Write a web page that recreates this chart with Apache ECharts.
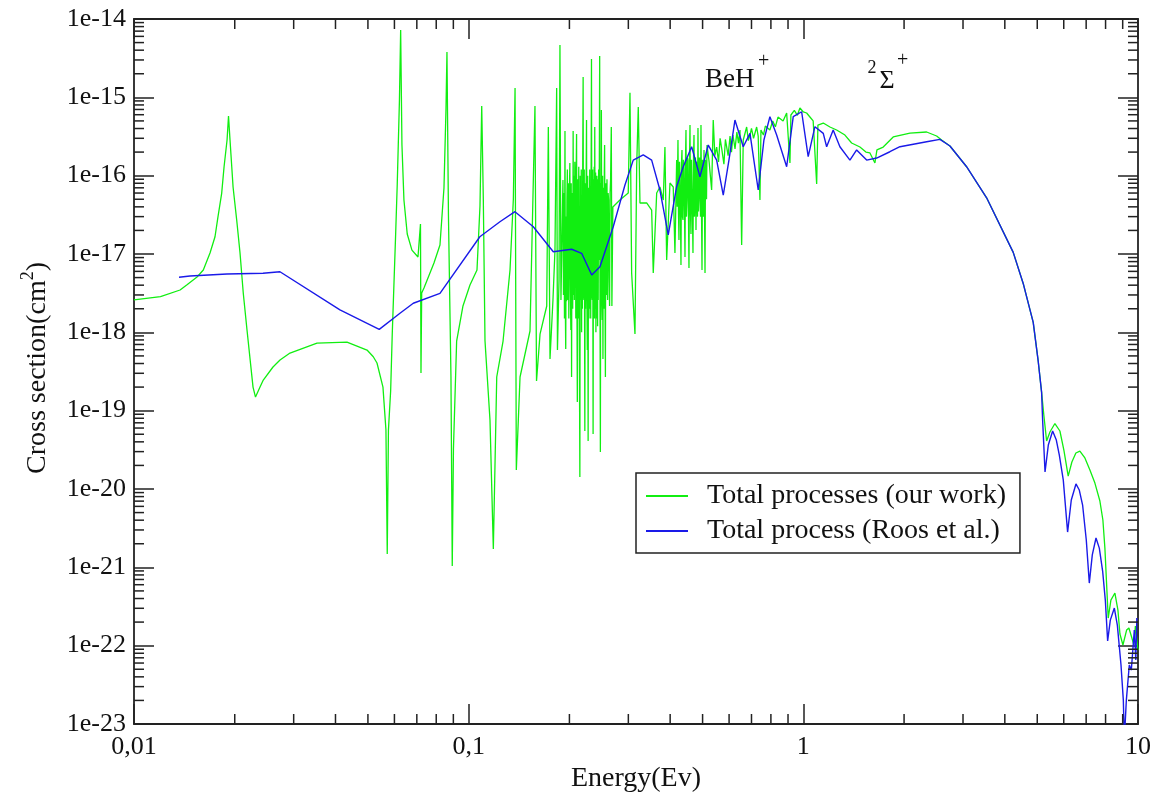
<!DOCTYPE html>
<html><head><meta charset="utf-8">
<script src="https://cdn.jsdelivr.net/npm/echarts@6/dist/echarts.min.js"></script>
<style>html,body{margin:0;padding:0;background:#fff}#c{width:1157px;height:795px}#err{position:absolute;left:5px;top:5px;color:red;font:12px monospace}</style>
</head><body><div id="c"></div><div id="err"></div>
<script>
// ---- data (Energy in eV, cross section in cm^2) ----
const seriesNames = ['Total processes (our work)', 'Total process (Roos et al.)'];
const xTickLabels = { '-2': '0,01', '-1': '0,1', '0': '1', '1': '10' };
const yMinLabel = '1e-23';
const yAxisTitle = '{n|Cross section(cm}{s|2}{n|)}';
const xAxisTitle = 'Energy(Ev)';
const minorMultipliers = [2, 3, 4, 5, 6, 7, 8, 9];
const xDecades = [0.01, 0.1, 1];
const yDecades = [1e-23, 1e-22, 1e-21, 1e-20, 1e-19, 1e-18, 1e-17, 1e-16, 1e-15];

const ourWorkLow = [
[0.01,2.59e-18],[0.0120,2.85e-18],[0.01373,3.47e-18],[0.01437,4.02e-18],[0.01543,5.08e-18],[0.01611,6.24e-18],[0.01687,1.03e-17],[0.01746,1.66e-17],[0.01782,2.97e-17],[0.01828,5.95e-17],[0.01858,1.29e-16],[0.01897,2.85e-16],[0.01916,5.78e-16],[0.01936,2.85e-16],[0.01977,7.17e-17],[0.02027,2.72e-17],[0.02074,1.03e-17],[0.02121,3.15e-18],[0.02176,1.07e-18],[0.02268,2.0e-19],[0.02307,1.49e-19],[0.0238,2.0e-19],[0.02434,2.46e-19],[0.02602,3.61e-19],[0.02731,4.43e-19],[0.02925,5.44e-19],[0.03522,7.30e-19],[0.04329,7.52e-19],[0.04969,5.94e-19],[0.05188,4.88e-19],[0.05322,4.06e-19],[0.05545,2.0e-19],[0.0566,5.66e-20],[0.05711,1.48e-21],[0.05758,5.66e-20],[0.05846,1.78e-19],[0.05911,9.5e-19],[0.06051,1.80e-17],[0.06118,7.82e-17],[0.06211,9.25e-16],[0.06263,7.24e-15],[0.06319,2.46e-16],[0.06406,4.89e-17],[0.06553,1.80e-17],[0.06769,1.12e-17],[0.07056,9.15e-18],[0.07178,2.41e-17],[0.07203,3.02e-19],[0.07238,3.18e-18],[0.07353,3.68e-18],[0.07876,7.67e-18],[0.08208,1.30e-17],[0.08437,6.96e-17],[0.08554,6.89e-16],[0.08613,3.79e-15],[0.08702,3.05e-17],[0.08853,2.69e-19],[0.08932,1.04e-21],[0.09006,3.24e-20],[0.09206,7.74e-19],[0.09616,2.17e-18],[0.1009,4.02e-18],[0.1059,6.24e-18],[0.1081,4.10e-17],[0.1094,7.75e-16],[0.1106,5.04e-17],[0.1119,7.74e-19],[0.1158,7.59e-20],[0.1185,1.71e-21],[0.1213,2.69e-19],[0.1267,7.74e-19],[0.1329,6.24e-18],[0.136,5.04e-17],[0.1376,1.32e-15],[0.1388,1.75e-20],[0.1424,2.69e-19],[0.1525,1.04e-18],[0.1578,7.75e-16],[0.1595,2.39e-19],[0.1634,9.5e-19],[0.1711,2.17e-18],[0.173,4.18e-16],[0.175,4.56e-19],[0.1786,2.59e-18],[0.1811,1.12e-17],[0.1832,1.32e-15],[0.1842,5.94e-19],[0.1862,4.65e-18],[0.1874,4.66e-15],[0.1887,2.59e-18]
];
const ourWorkDense = [
[0.1900,2.59e-18],[0.1907,4.0e-17],[0.1913,8.8e-17],[0.1920,3.0e-18],[0.1927,6.0e-17],[0.1933,1.5e-18],[0.1940,3.72e-16],[0.1945,2.0e-18],[0.1950,6.12e-19],[0.1956,3.0e-17],[0.1961,2.5e-18],[0.1966,4.89e-17],[0.1972,1.2e-16],[0.1979,2.59e-18],[0.1986,8.0e-17],[0.1992,1.5e-18],[0.1999,5.0e-17],[0.2006,1.45e-16],[0.2013,4.0e-18],[0.2020,1.07e-18],[0.2025,8.0e-17],[0.2030,2.69e-19],[0.2036,6.0e-17],[0.2041,2.72e-17],[0.2046,2.0e-18],[0.2052,3.72e-16],[0.2058,3.0e-18],[0.2063,1.0e-16],[0.2069,2.59e-18],[0.2076,1.5e-16],[0.2084,6.56e-17],[0.2090,1.5e-18],[0.2096,1.2e-16],[0.2101,3.4e-16],[0.2106,3.0e-18],[0.2112,1.29e-19],[0.2118,9.0e-17],[0.2124,1.5e-18],[0.2127,1.12e-17],[0.2133,1.3e-16],[0.2140,2.0e-18],[0.2149,1.42e-20],[0.2155,1.0e-16],[0.2160,3.0e-18],[0.2164,2.59e-18],[0.2170,1.2e-16],[0.2175,1.0e-18],[0.2179,4.89e-17],[0.2186,2.0e-18],[0.2192,1.5e-16],[0.2198,1.82e-15],[0.2203,3.0e-18],[0.2209,2.59e-18],[0.2215,1.2e-16],[0.2224,5.5e-20],[0.2230,8.0e-17],[0.2235,2.0e-18],[0.2239,1.12e-17],[0.2245,1.3e-16],[0.2250,5.13e-16],[0.2256,2.5e-18],[0.2262,5.94e-19],[0.2268,1.0e-16],[0.2275,4.1e-20],[0.2281,7.0e-17],[0.2288,1.5e-18],[0.2294,8.38e-18],[0.2300,1.2e-16],[0.2305,2.0e-18],[0.2309,6.56e-17],[0.2316,1.5e-18],[0.2322,1.0e-16],[0.2328,3.09e-15],[0.2334,3.0e-18],[0.2341,2.59e-18],[0.2347,1.2e-16],[0.2354,5.03e-20],[0.2360,9.0e-17],[0.2365,4.65e-18],[0.2372,1.3e-16],[0.2377,1.5e-18],[0.2381,4.18e-16],[0.2388,2.0e-18],[0.2395,1.1e-16],[0.2400,1.0e-18],[0.2405,8.0e-17],[0.2411,1.5e-18],[0.2416,1.0e-16],[0.2422,3.64e-17],[0.2428,1.2e-18],[0.2433,9.0e-17],[0.2438,2.59e-18],[0.2445,1.2e-16],[0.2452,8.38e-18],[0.2463,3.37e-15],[0.2469,2.0e-18],[0.2475,2.96e-20],[0.2481,8.0e-17],[0.2487,3.0e-18],[0.2492,6.89e-16],[0.2499,2.5e-18],[0.2506,1.44e-18],[0.2512,1.0e-16],[0.2519,4.56e-19],[0.2525,7.0e-17],[0.2531,2.72e-17],[0.2537,2.0e-18],[0.2543,1.1e-16],[0.2548,2.46e-16],[0.2555,3.0e-18],[0.2562,2.69e-19],[0.2569,8.0e-17],[0.2576,3.0e-18],[0.2583,1.12e-17],[0.2590,9.0e-17],[0.2596,4.0e-18],[0.2601,2.59e-18],[0.2610,6.0e-17],[0.2619,4.89e-17],[0.2628,5.0e-18],[0.2637,2.17e-18],[0.2646,6.0e-17],[0.2655,8.8e-17],[0.2668,4.18e-16],[0.2679,2.17e-18],[0.2697,3.98e-17]
];
const ourWorkMid = [
[0.2831,4.89e-17],[0.2998,6.0e-17],[0.3034,1.14e-15],[0.3069,5.72e-18],[0.314,9.5e-19],[0.3177,1.29e-16],[0.3212,7.52e-16],[0.325,4.48e-17],[0.3403,4.48e-17],[0.3522,3.64e-17],[0.3561,5.72e-18],[0.3646,6.0e-17],[0.3729,7.17e-17],[0.3815,4.89e-17],[0.3859,2.32e-16],[0.3905,8.38e-18],[0.3995,8.06e-17],[0.4086,7.17e-17],[0.4134,1.03e-17],[0.4183,1.58e-16],
[0.4200,4.0e-17],[0.4221,2.85e-16],[0.4236,3.5e-17],[0.4250,1.51e-17],[0.4265,1.5e-16],[0.4280,8.8e-17],[0.4295,3.0e-17],[0.4309,7.23e-18],[0.4324,1.4e-16],[0.4339,2.13e-16],[0.4354,3.0e-17],[0.4369,2.72e-17],[0.4384,1.6e-16],[0.4399,1.18e-16],[0.4415,3.5e-17],[0.4430,9.15e-18],[0.4445,1.5e-16],[0.4460,3.83e-16],[0.4475,3.0e-17],[0.4491,4.89e-17],[0.4506,1.7e-16],[0.4522,1.58e-16],[0.4538,3.0e-17],[0.4553,6.62e-18],[0.4569,1.5e-16],[0.4585,4.43e-16],[0.4600,3.5e-17],[0.4616,1.80e-17],[0.4632,1.6e-16],[0.4648,1.58e-16],[0.4664,3.0e-17],[0.4680,1.03e-17],[0.4696,1.5e-16],[0.4713,3.30e-16],[0.4729,3.0e-17],[0.4745,6.56e-17],[0.4761,1.7e-16],[0.4778,2.02e-17],[0.4795,1.5e-16],[0.4811,7.82e-17],[0.4828,3.0e-17],[0.4844,4.06e-16],[0.4861,3.5e-17],[0.4878,4.89e-17],[0.4894,1.7e-16],[0.4911,1.58e-16],[0.4928,3.0e-17],[0.4945,4.43e-16],[0.4962,4.0e-17],[0.4980,6.24e-18],[0.4997,1.6e-16],[0.5014,8.8e-17],[0.5031,3.0e-17],[0.5049,2.13e-16],[0.5066,4.0e-17],[0.5084,5.72e-18],[0.5101,1.6e-16],[0.5119,1.58e-16],[0.5137,5.0e-17],[0.5154,2.46e-16]
];
const ourWorkHigh = [
[0.5230,1.5e-16],[0.5321,6.56e-17],[0.538,5.13e-16],[0.5440,1.8e-16],[0.5508,2.32e-16],[0.5580,1.5e-16],[0.5640,3.0e-16],[0.5711,2.13e-16],[0.5790,1.4e-16],[0.5850,2.9e-16],[0.5899,2.85e-16],[0.5960,1.8e-16],[0.6040,3.2e-16],[0.6100,2.0e-16],[0.6161,3.30e-16],[0.6250,2.2e-16],[0.6330,3.6e-16],[0.6400,2.6e-16],[0.6466,3.83e-16],[0.6542,1.30e-17],[0.6614,2.85e-16],[0.6690,3.0e-16],[0.6771,4.18e-16],[0.6850,2.8e-16],[0.6927,3.30e-16],[0.7000,4.0e-16],[0.7100,3.0e-16],[0.7253,4.18e-16],[0.7330,3.2e-16],[0.7419,4.89e-17],[0.747,3.83e-16],[0.7600,3.3e-16],[0.7700,4.3e-16],[0.7946,3.83e-16],[0.8100,5.0e-16],[0.8250,4.2e-16],[0.8400,5.6e-16],[0.8514,5.61e-16],[0.8700,5.0e-16],[0.8916,6.31e-16],[0.912,1.45e-16],[0.918,5.95e-16],[0.9400,6.8e-16],[0.9600,5.9e-16],[0.9768,7.31e-16],[1.000,6.5e-16],[1.023,6.31e-16],[1.0464,5.61e-16],[1.070,5.0e-16],[1.096,7.82e-17],[1.1056,4.43e-16],[1.1468,4.70e-16],[1.2008,4.18e-16],[1.2574,3.83e-16],[1.3314,3.30e-16],[1.3941,2.61e-16],[1.4761,2.32e-16],[1.5382,2.00e-16],[1.5812,1.95e-16],[1.6364,1.45e-16],[1.6592,2.13e-16],[1.7327,2.32e-16],[1.856,3.12e-16],[2.0824,3.50e-16],[2.3355,3.61e-16],[2.502,3.21e-16],[2.5892,2.85e-16]
];
const sharedFall = [
[2.742,2.39e-16],[3.075,1.30e-16],[3.529,5.22e-17],[4.238,1.05e-17],[4.539,4.21e-18],[4.863,1.34e-18],[5.033,4.28e-19],[5.152,1.71e-19]
];
const ourWorkTail = [
[5.235,8.54e-20],[5.333,4.10e-20],[5.456,5.34e-20],[5.646,6.85e-20],[5.843,5.50e-20],[6.005,3.14e-20],[6.186,1.46e-20],[6.345,2.21e-20],[6.522,2.88e-20],[6.704,3.05e-20],[6.939,2.49e-20],[7.183,1.75e-20],[7.434,1.19e-20],[7.694,7.02e-21],[7.854,4.02e-21],[7.963,1.76e-21],[8.147,2.25e-22],[8.299,3.82e-22],[8.531,4.70e-22],[8.71,2.85e-22],[8.831,1.41e-22],[9.015,1.02e-22],[9.246,1.58e-22],[9.393,1.68e-22],[9.57,1.29e-22],[9.72,1.02e-22],[9.822,1.78e-22],[9.924,1.18e-22],[10,8.79e-23]
];
const roosMain = [
[0.01363,5.04e-18],[0.0147,5.24e-18],[0.01896,5.55e-18],[0.02429,5.67e-18],[0.0273,5.94e-18],[0.04125,1.93e-18],[0.05405,1.09e-18],[0.06233,1.75e-18],[0.06831,2.35e-18],[0.08208,3.15e-18],[0.108,1.66e-17],[0.124,2.58e-17],[0.1375,3.47e-17],[0.156,2.23e-17],[0.179,1.07e-17],[0.2031,1.15e-17],[0.2176,1.02e-17],[0.2332,5.39e-18],[0.2468,6.88e-18],[0.2704,2.23e-17],[0.2931,7.60e-17],[0.3103,1.58e-16],[0.3324,1.84e-16],[0.3522,1.58e-16],[0.3728,6.56e-17],[0.3948,1.75e-17],[0.4182,7.23e-17],[0.4377,1.30e-16],[0.4637,2.34e-16],[0.491,9.70e-17],[0.5199,2.46e-16],[0.5508,1.58e-16],[0.5764,5.66e-17],[0.5994,1.58e-16],[0.6247,5.13e-16],[0.6614,2.34e-16],[0.6927,3.47e-16],[0.7332,6.56e-17],[0.7625,2.85e-16],[0.7946,5.66e-16],[0.8323,3.30e-16],[0.8916,1.30e-16],[0.9329,5.66e-16],[0.9884,6.55e-16],[1.034,1.75e-16],[1.083,4.22e-16],[1.147,3.47e-16],[1.174,2.34e-16],[1.228,3.83e-16],[1.286,2.34e-16],[1.378,1.58e-16],[1.443,2.13e-16],[1.546,1.58e-16],[1.656,1.68e-16],[1.814,2.02e-16],[1.944,2.34e-16],[2.336,2.71e-16],[2.559,2.91e-16]
];
const roosTail = [
[5.188,7.59e-20],[5.275,1.65e-20],[5.395,3.64e-20],[5.558,5.50e-20],[5.701,4.22e-20],[5.82,2.71e-20],[5.981,1.30e-20],[6.161,2.82e-21],[6.319,7.23e-21],[6.526,1.16e-20],[6.677,9.70e-21],[6.831,6.24e-21],[7.006,2.23e-21],[7.153,6.30e-22],[7.302,1.44e-21],[7.49,2.37e-21],[7.663,1.76e-21],[7.84,8.97e-22],[7.986,3.82e-22],[8.115,1.15e-22],[8.266,2.12e-22],[8.497,3.02e-22],[8.675,1.83e-22],[8.896,5.66e-23],[9.04,2.02e-23],[9.1,6.24e-24],[9.23,2.02e-23],[9.419,5.66e-23],[9.55,4.88e-23],[9.636,8.05e-23],[9.75,1.58e-22],[9.85,6.55e-23],[9.92,2.25e-22]
];

const ourWork = [].concat(ourWorkLow, ourWorkDense, ourWorkMid, ourWorkHigh, sharedFall, ourWorkTail);
const roos = [].concat(roosMain, sharedFall, roosTail);

const xMinor = [];
xDecades.forEach(d => minorMultipliers.forEach(m => xMinor.push([m * d, 1e-20])));
const yMinor = [];
yDecades.forEach(d => minorMultipliers.forEach(m => yMinor.push([1, m * d])));

const FONT = '"Liberation Serif", "DejaVu Serif", serif';
const INK = '#222';
const TXT = '#111';

function tickRender(kind) {
  return function (params, api) {
    const cs = params.coordSys;
    const p = api.coord([api.value(0), api.value(1)]);
    const st = { stroke: INK, lineWidth: 1.5 };
    const L = 10;
    if (kind === 'x') {
      const x = p[0];
      return { type: 'group', children: [
        { type: 'line', shape: { x1: x, y1: cs.y + cs.height, x2: x, y2: cs.y + cs.height - L }, style: st },
        { type: 'line', shape: { x1: x, y1: cs.y, x2: x, y2: cs.y + L }, style: st }
      ] };
    }
    const y = p[1];
    return { type: 'group', children: [
      { type: 'line', shape: { x1: cs.x, y1: y, x2: cs.x + L, y2: y }, style: st },
      { type: 'line', shape: { x1: cs.x + cs.width, y1: y, x2: cs.x + cs.width - L, y2: y }, style: st }
    ] };
  };
}

// label for the lowest y tick, placed through the axis scale
function yMinLabelRender(params, api) {
  const cs = params.coordSys;
  const p = api.coord([api.value(0), api.value(1)]);
  return { type: 'text', x: cs.x - 8, y: p[1], style: {
    text: yMinLabel, font: '26px ' + FONT, fill: TXT, align: 'right', verticalAlign: 'middle' } };
}

function axisBase() {
  return {
    type: 'log', logBase: 10,
    axisLine: { show: true, onZero: false, lineStyle: { color: INK, width: 1.8 } },
    axisTick: { show: true, inside: true, length: 20, lineStyle: { color: INK, width: 1.5 } },
    splitLine: { show: false },
    minorTick: { show: false },
    minorSplitLine: { show: false }
  };
}

try {
  const chart = echarts.init(document.getElementById('c'), null, { renderer: 'canvas' });
  chart.setOption({
    animation: false,
    backgroundColor: '#fff',
    grid: { left: 134, right: 19, top: 19, bottom: 71, containLabel: false, outerBoundsMode: 'none' },
    xAxis: [
      Object.assign(axisBase(), {
        gridIndex: 0, position: 'bottom', min: 0.01, max: 10,
        name: xAxisTitle, nameLocation: 'middle', nameGap: 38,
        nameTextStyle: { fontFamily: FONT, fontSize: 28, color: TXT },
        axisLabel: {
          margin: 10, fontFamily: FONT, fontSize: 26, color: TXT, showMinLabel: true, showMaxLabel: true, hideOverlap: false,
          formatter: v => xTickLabels[String(Math.round(Math.log10(v)))] || ''
        }
      }),
      Object.assign(axisBase(), { gridIndex: 0, position: 'top', min: 0.01, max: 10, axisLabel: { show: false } })
    ],
    yAxis: [
      Object.assign(axisBase(), {
        gridIndex: 0, position: 'left', min: 1e-23, max: 1e-14,
        axisLabel: {
          margin: 8, fontFamily: FONT, fontSize: 26, color: TXT, showMinLabel: false, showMaxLabel: true, hideOverlap: false,
          formatter: v => '1e' + Math.round(Math.log10(v))
        }
      }),
      Object.assign(axisBase(), { gridIndex: 0, position: 'right', min: 1e-23, max: 1e-14, axisLabel: { show: false } })
    ],
    legend: {
      data: seriesNames,
      orient: 'vertical', left: 636, top: 473,
      icon: 'rect', itemWidth: 42, itemHeight: 2, itemGap: 7,
      padding: [9, 14, 8, 10],
      borderColor: INK, borderWidth: 1.5, backgroundColor: '#fff',
      textStyle: { fontFamily: FONT, fontSize: 28, lineHeight: 28, color: TXT, padding: [0, 0, 0, 14] }
    },
    graphic: [
      { type: 'text', x: 38, y: 368, rotation: Math.PI / 2, style: {
          text: yAxisTitle, fill: TXT, align: 'center', verticalAlign: 'middle', textAlign: 'center', textVerticalAlign: 'middle',
          rich: {
            n: { fontFamily: FONT, fontSize: 28, lineHeight: 38, fill: TXT, color: TXT },
            s: { fontFamily: FONT, fontSize: 18, lineHeight: 18, verticalAlign: 'top', fill: TXT, color: TXT }
          } } },
      { type: 'text', x: 705, y: 80, style: { text: 'BeH', font: '27px ' + FONT, fill: TXT, textAlign: 'left', textVerticalAlign: 'middle', verticalAlign: 'middle' } },
      { type: 'text', x: 758, y: 62, style: { text: '+', font: '20px ' + FONT, fill: TXT, textAlign: 'left', textVerticalAlign: 'middle', verticalAlign: 'middle' } },
      { type: 'text', x: 872, y: 68, style: { text: '2', font: '18px ' + FONT, fill: TXT, textAlign: 'center', textVerticalAlign: 'middle', verticalAlign: 'middle' } },
      { type: 'text', x: 887, y: 81, style: { text: 'Σ', font: '26px ' + FONT, fill: TXT, textAlign: 'center', textVerticalAlign: 'middle', verticalAlign: 'middle' } },
      { type: 'text', x: 897, y: 61, style: { text: '+', font: '20px ' + FONT, fill: TXT, textAlign: 'left', textVerticalAlign: 'middle', verticalAlign: 'middle' } }
    ],
    series: [
      {
        name: seriesNames[0], type: 'line', data: ourWork,
        xAxisIndex: 0, yAxisIndex: 0,
        showSymbol: false, symbol: 'none', smooth: false,
        lineStyle: { color: '#11ee11', width: 1.3 }, itemStyle: { color: '#11ee11' },
        z: 2
      },
      {
        name: seriesNames[1], type: 'line', data: roos,
        xAxisIndex: 0, yAxisIndex: 0,
        showSymbol: false, symbol: 'none', smooth: false,
        lineStyle: { color: '#1a1ae8', width: 1.4 }, itemStyle: { color: '#1a1ae8' },
        z: 3
      },
      { type: 'custom', name: 'xMinorTicks', data: xMinor, xAxisIndex: 0, yAxisIndex: 0, renderItem: tickRender('x'), silent: true, clip: false, z: 5 },
      { type: 'custom', name: 'yMinorTicks', data: yMinor, xAxisIndex: 0, yAxisIndex: 0, renderItem: tickRender('y'), silent: true, clip: false, z: 5 },
      { type: 'custom', name: 'yMinLabel', data: [[0.01, 1e-23]], xAxisIndex: 0, yAxisIndex: 0, renderItem: yMinLabelRender, silent: true, clip: false, z: 6 }
    ]
  });
} catch (e) {
  document.getElementById('err').textContent = String(e && e.stack || e);
}
</script>
</body></html>
